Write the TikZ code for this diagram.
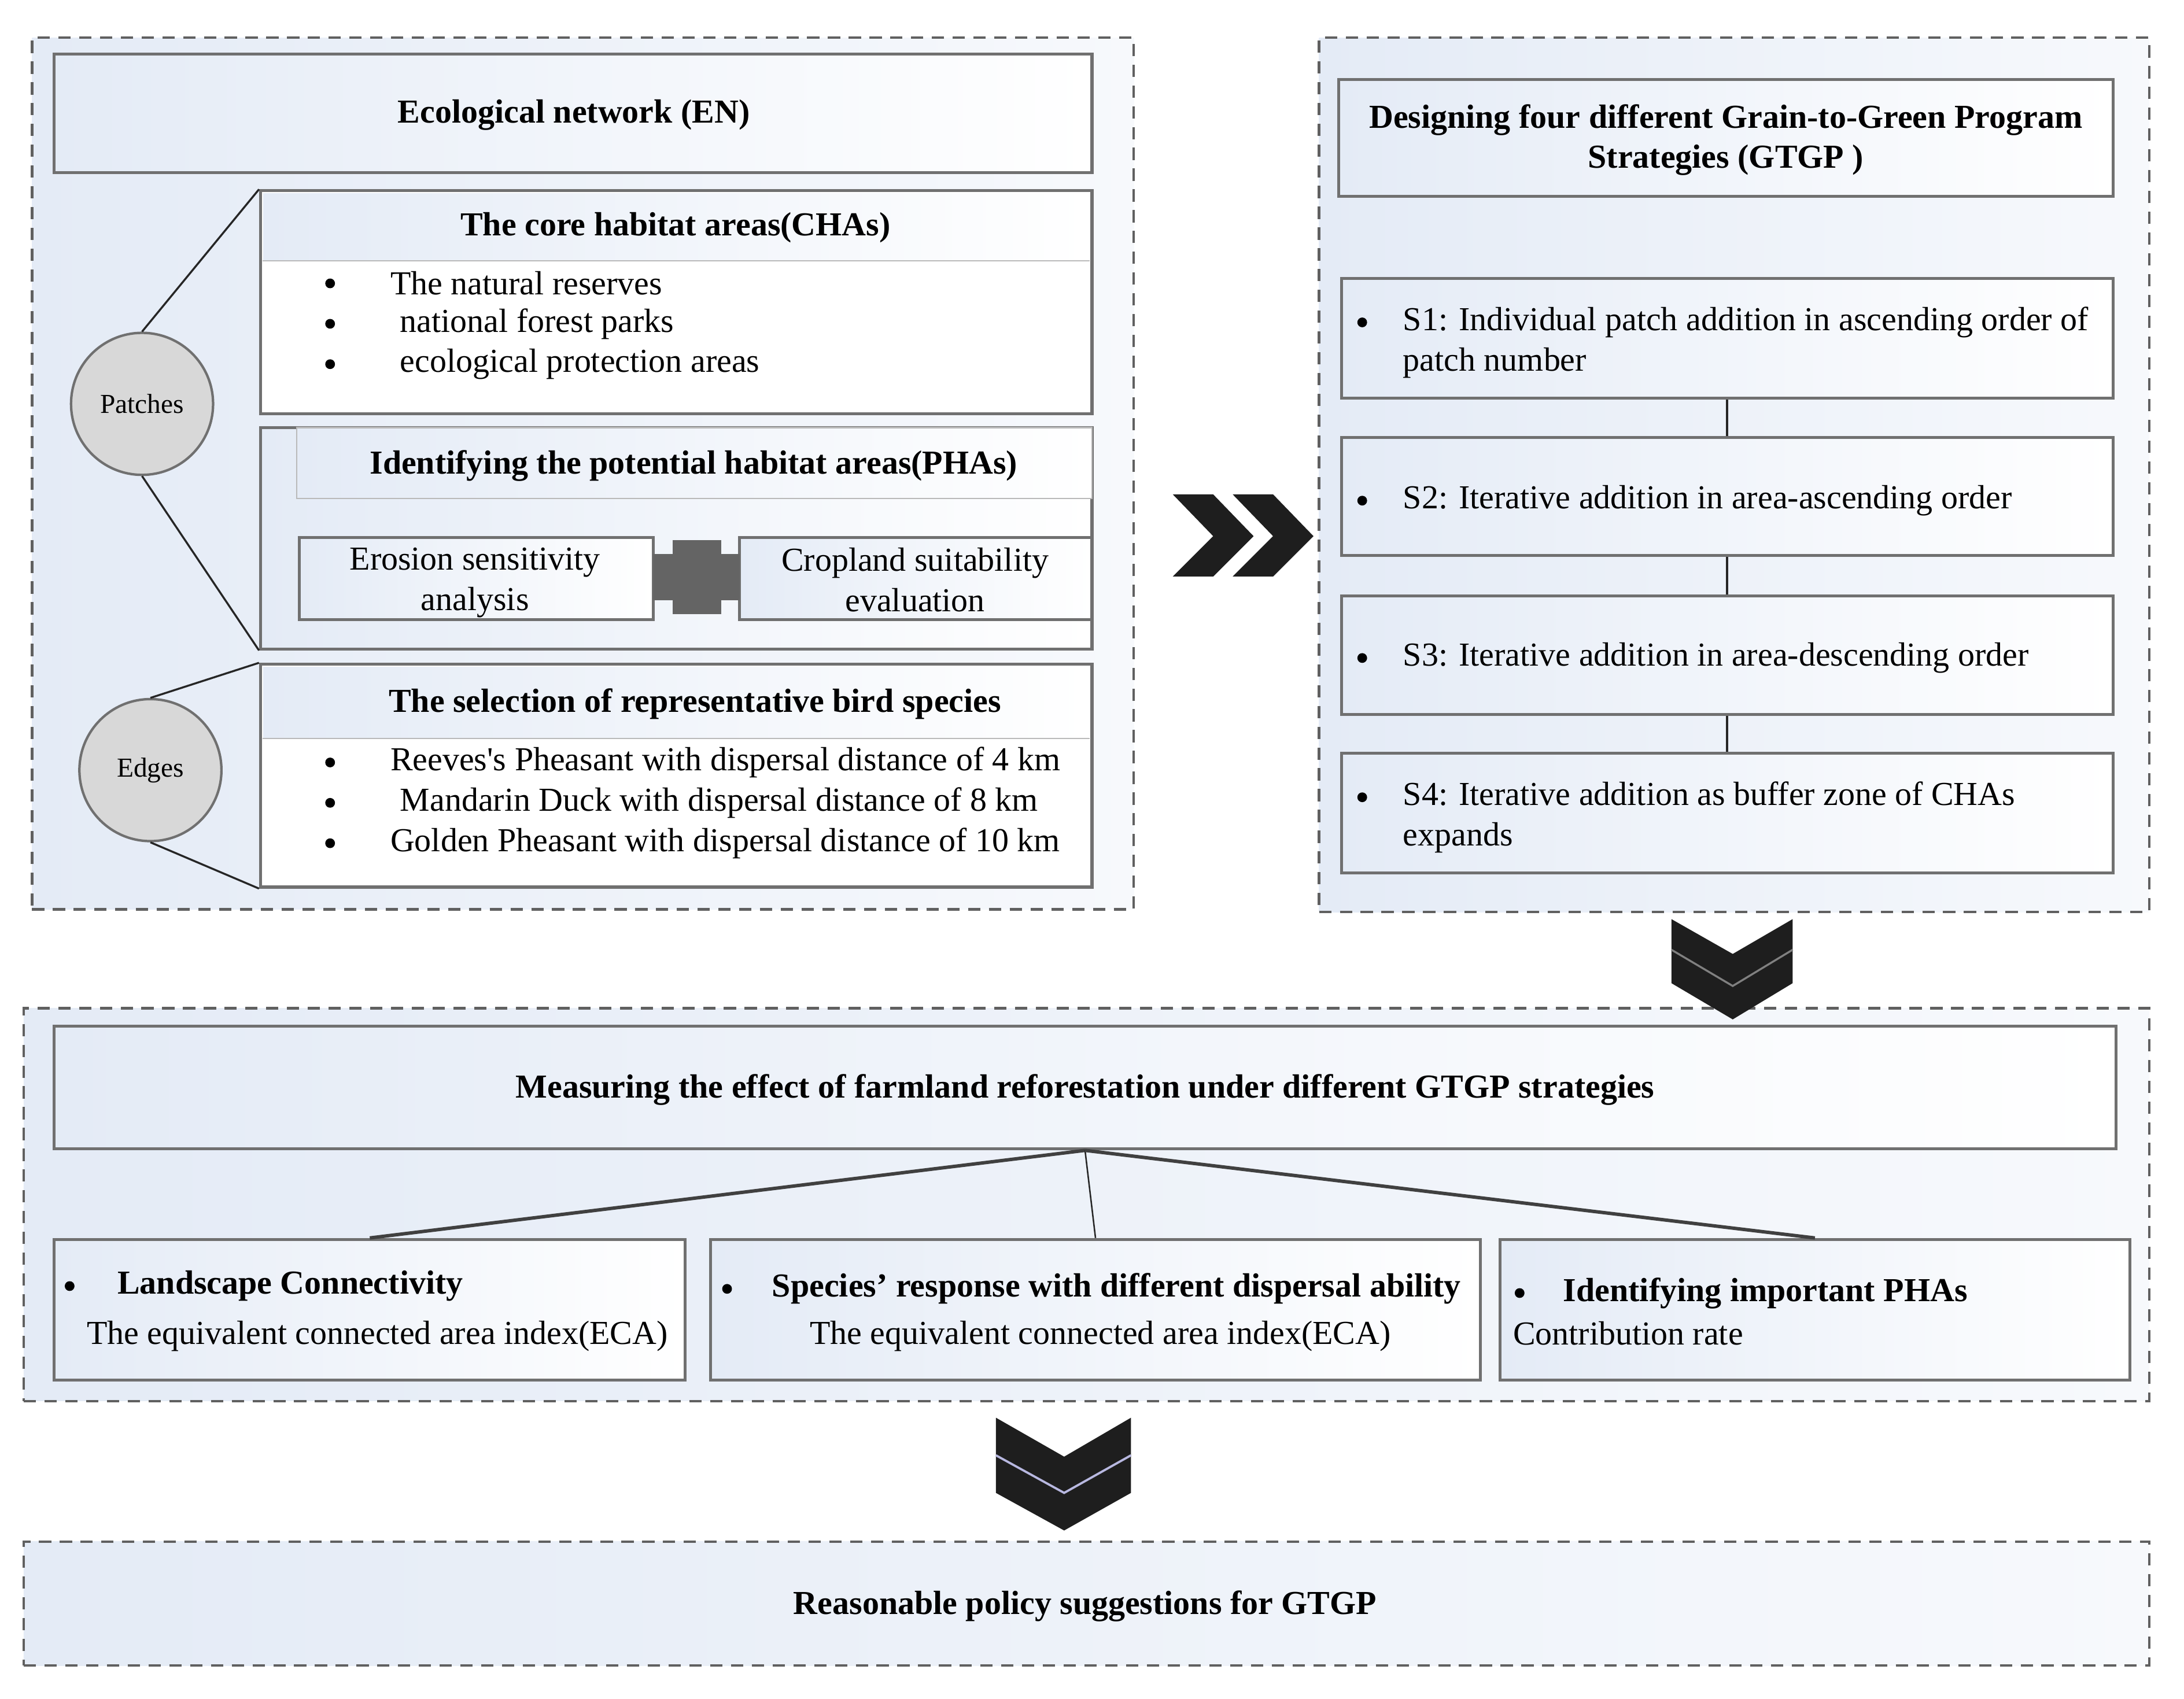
\documentclass[tikz,border=0pt]{standalone}
\usepackage{fontspec}
\setmainfont{Liberation Serif}
\usetikzlibrary{fit,positioning}

\definecolor{boxline}{RGB}{112,112,112}
\definecolor{paleblue}{RGB}{228,235,246}
\definecolor{dashline}{RGB}{96,96,96}
\definecolor{chevfill}{RGB}{30,30,30}
\definecolor{circfill}{RGB}{216,216,216}
\definecolor{crossfill}{RGB}{100,100,100}

\tikzset{
  frame/.style={draw=dashline, line width=1pt, dash pattern=on 5pt off 3.5pt,
    left color=paleblue, right color=paleblue!30!white, inner sep=0pt},
  box/.style={draw=boxline, line width=1.2pt, left color=paleblue, right color=white, inner sep=0pt},
  plainbox/.style={draw=boxline, line width=1.2pt, fill=white, inner sep=0pt},
  hdrfill/.style={left color=paleblue, right color=white, inner sep=0pt},
  subhead/.style={draw=gray!55, line width=0.6pt, left color=paleblue, right color=white, inner sep=0pt},
  sepline/.style={draw=gray!55, line width=0.6pt},
  hub/.style={circle, draw=boxline, line width=1pt, fill=circfill, minimum size=2.04cm, inner sep=0pt,
    font=\fontsize{11.2}{13}\selectfont},
  head/.style={font={\fontsize{13.7}{16.5}\selectfont\bfseries}, inner sep=0pt, yshift=-0.05cm},
  body/.style={font={\fontsize{13.7}{16.5}\selectfont}, inner sep=0pt, yshift=-0.05cm},
  dot/.style={circle, fill=black, inner sep=0pt, minimum size=0.14cm, yshift=-0.05cm},
  link/.style={draw=black!85, line width=0.8pt},
  thicklink/.style={draw=black!75, line width=1.4pt},
}

\begin{document}
\begin{tikzpicture}[x=0.02cm, y=-0.02cm]
\useasboundingbox[fill=white] (0,0) rectangle (1568,1220);

% ecological network panel
\node[frame, fit={(23,27) (814,653)}] (netpanel) {};
\node[box, fit={(39,39) (784,124)}] (en) {};
\node[head] (entitle) at (412,80) {Ecological network (EN)};

\node[plainbox, fit={(187,137) (784,297)}] (cha) {};
\node[hdrfill, fit={(189,139) (782,187)}] (chahead) {};
\draw[sepline] (chahead.south west) -- (chahead.south east);
\node[head] (chatitle) at (485,161) {The core habitat areas(CHAs)};
\foreach \y/\x/\t [count=\i] in {201/280/The natural reserves, 230/287/national forest parks, 259/287/ecological protection areas}{
  \node[dot] (chadot\i) at (237,\y) {};
  \node[body, anchor=west] (chaitem\i) at (\x,\y) {\t};
}

\node[box, fit={(187,307) (784,466)}] (pha) {};
\node[subhead, fit={(213,307) (784,358)}] (phahead) {};
\node[head] (phatitle) at (498,332) {Identifying the potential habitat areas(PHAs)};
\node[box, fit={(215,386) (469,445)}] (erosion) {};
\node[box, fit={(531,386) (784,445)}] (cropland) {};
\node[body, align=center] (erosiontxt) at (341,416) {Erosion sensitivity\\analysis};
\node[body, align=center] (croplandtxt) at (657,414) {Cropland suitability\\evaluation};
% joint between the two
\fill[crossfill] (483,388) rectangle (518,441);
\fill[crossfill] (469,398) rectangle (531,431);

\node[plainbox, fit={(187,477) (784,637)}] (birds) {};
\node[hdrfill, fit={(189,479) (782,530)}] (birdhead) {};
\draw[sepline] (birdhead.south west) -- (birdhead.south east);
\node[head] (birdtitle) at (499,503) {The selection of representative bird species};
\foreach \y/\x/\t [count=\i] in {545/280/Reeves\textquotesingle s Pheasant with dispersal distance of 4 km, 574/287/Mandarin Duck with dispersal distance of 8 km, 603/280/Golden Pheasant with dispersal distance of 10 km}{
  \node[dot] (birddot\i) at (237,\y) {};
  \node[body, anchor=west] (birditem\i) at (\x,\y) {\t};
}

\node[hub] (patches) at (102,290) {Patches};
\node[hub] (edges) at (108,553) {Edges};
\draw[link] (patches.north) -- (cha.north west);
\draw[link] (patches.south) -- (pha.south west);
\draw[link] (edges.north) -- (birds.north west);
\draw[link] (edges.south) -- (birds.south west);

% strategy panel
\node[frame, fit={(947,27) (1543,655)}] (gtgppanel) {};
\node[box, fit={(961,57) (1517,141)}] (gtgp) {};
\node[head, align=center] (gtgptitle) at (1239,98) {Designing four different Grain-to-Green Program\\Strategies (GTGP )};
\node[box, fit={(963,200) (1517,286)}] (s1) {};
\node[box, fit={(963,314) (1517,399)}] (s2) {};
\node[box, fit={(963,428) (1517,513)}] (s3) {};
\node[box, fit={(963,541) (1517,627)}] (s4) {};
\foreach \a/\b in {s1/s2, s2/s3, s3/s4}
  \draw[link] (\a) -- (\b);
\node[dot] (s1dot) at (978,229) {};
\node[body, anchor=west, align=left] (s1txt) at (1007,243.5) {S1: Individual patch addition in ascending order of\\patch number};
\node[dot] (s2dot) at (978,357) {};
\node[body, anchor=west] (s2txt) at (1007,357) {S2: Iterative addition in area-ascending order};
\node[dot] (s3dot) at (978,470) {};
\node[body, anchor=west] (s3txt) at (1007,470) {S3: Iterative addition in area-descending order};
\node[dot] (s4dot) at (978,570) {};
\node[body, anchor=west, align=left] (s4txt) at (1007,584.5) {S4: Iterative addition as buffer zone of CHAs\\expands};

% effect panel
\node[frame, fit={(17,724) (1543,1006)}] (effectpanel) {};
\node[box, fit={(39,737) (1519,825)}] (effect) {};
\node[head] (effecttitle) at (779,780) {Measuring the effect of farmland reforestation under different GTGP strategies};
\node[box, fit={(39,890) (492,991)}] (landscape) {};
\node[box, fit={(510,890) (1063,991)}] (species) {};
\node[box, fit={(1077,890) (1529,991)}] (important) {};
\draw[thicklink] (effect.south) -- (landscape.north);
\draw[link, line width=0.6pt] (effect.south) -- (species.north);
\draw[thicklink] (effect.south) -- (important.north);

\node[dot] (landdot) at (50,921) {};
\node[head, anchor=west] (landtitle) at (84,921) {Landscape Connectivity};
\node[body, anchor=west] (landeca) at (62,957) {The equivalent connected area index(ECA)};
\node[dot] (specdot) at (522,923) {};
\node[head, anchor=west] (spectitle) at (554,923) {Species’ response with different dispersal ability};
\node[body] (spececa) at (790,957) {The equivalent connected area index(ECA)};
\node[dot] (impdot) at (1091,926) {};
\node[head, anchor=west] (imptitle) at (1122,926) {Identifying important PHAs};
\node[body, anchor=west] (imprate) at (1086,955) {Contribution rate};

% policy panel
\node[frame, fit={(17,1107) (1543,1196)}] (policy) {};
\node[head] (policytxt) at (779,1151) {Reasonable policy suggestions for GTGP};

% chevrons
\foreach \dx in {0,43}
  \fill[chevfill] (842+\dx,355) -- (871+\dx,355) -- (900+\dx,385) -- (871+\dx,414) -- (842+\dx,414) -- (871+\dx,385) -- cycle;
\fill[chevfill] (1200,660) -- (1244,685) -- (1287,660) -- (1287,706) -- (1244,732) -- (1200,706) -- cycle;
\draw[gray, line width=0.8pt] (1200,682) -- (1244,708) -- (1287,682);
\fill[chevfill] (715,1018) -- (764,1046) -- (812,1018) -- (812,1072) -- (764,1099) -- (715,1072) -- cycle;
\draw[gray!60!blue!40, line width=0.9pt] (715,1045) -- (764,1072) -- (812,1045);
\end{tikzpicture}
\end{document}
